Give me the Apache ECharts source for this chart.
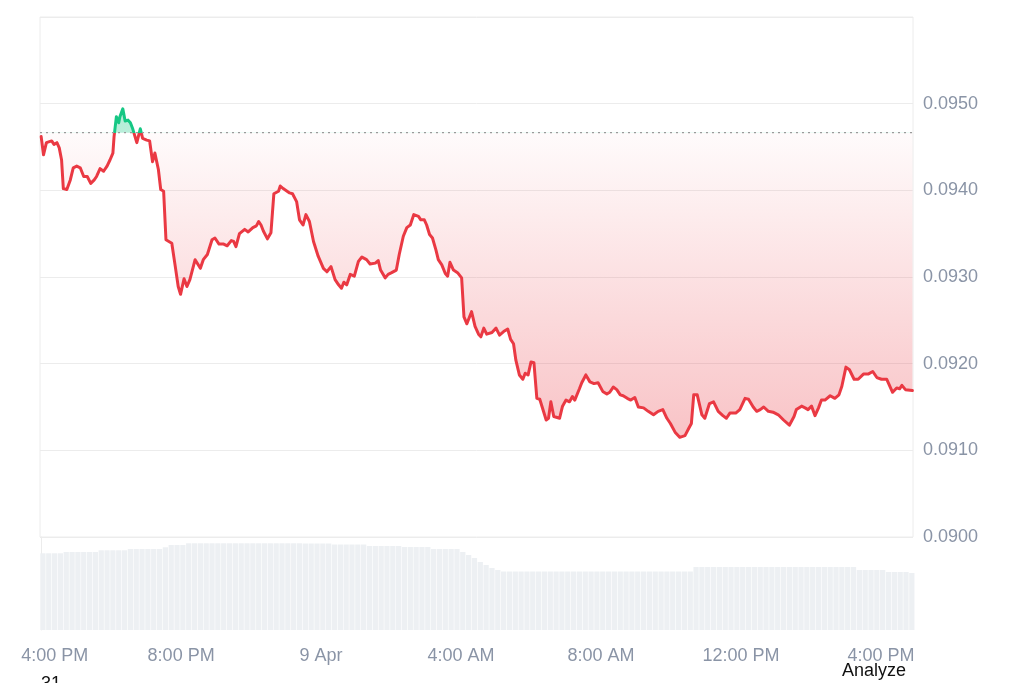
<!DOCTYPE html>
<html><head><meta charset="utf-8">
<script src="https://cdn.jsdelivr.net/npm/echarts@6/dist/echarts.min.js"></script>
<style>html,body{margin:0;padding:0;background:#fff}#c{width:1024px;height:683px}</style>
</head><body><div id="c"></div>
<script>
// x: minutes after 4:00 PM, 8 Apr
const tickMinutes = [0, 240, 480, 720, 960, 1200, 1440];
const tickLabels = ['4:00 PM', '8:00 PM', '9 Apr', '4:00 AM', '8:00 AM', '12:00 PM', '4:00 PM'];
const priceTicks = [0.0900, 0.0910, 0.0920, 0.0930, 0.0940, 0.0950, 0.0960];
const baselinePrice = 0.094665;

const times = [
  0,4,9,12,18,22,27,31,35,38,
  44,50,55,61,67,73,79,85,91,95,
  101,107,113,118,123,125,129,133,135,140,
  144,149,153,157,164,170,174,181,186,191,
  195,201,205,210,214,224,230,235,239,245,
  250,255,264,273,278,285,293,298,305,313,
  319,326,330,334,340,349,355,363,369,373,
  377,381,388,394,399,407,410,415,426,431,
  438,443,449,454,460,467,475,484,490,497,
  504,510,515,519,524,530,537,544,550,558,
  564,573,578,582,590,595,601,609,614,621,
  627,633,639,647,651,657,661,666,671,677,
  681,687,693,697,701,707,714,721,725,730,
  738,744,750,754,759,764,773,780,786,793,
  800,805,810,814,820,826,830,835,840,845,
  850,855,866,870,874,879,889,894,900,906,
  911,915,923,927,934,941,948,955,963,970,
  975,981,987,993,998,1005,1011,1018,1024,1033,
  1041,1050,1058,1066,1073,1079,1087,1095,1104,1111,
  1115,1119,1125,1133,1138,1146,1153,1161,1169,1175,
  1181,1191,1198,1207,1213,1221,1227,1233,1239,1247,
  1255,1264,1273,1283,1291,1295,1304,1310,1315,1321,
  1327,1333,1338,1344,1353,1361,1368,1373,1380,1386,
  1394,1401,1410,1418,1426,1433,1441,1450,1460,1467,
  1472,1476,1482,1494
];
const prices = [
  0.09462,0.09441,0.09455,0.09457,0.09457,0.09453,0.09455,0.09449,0.09435,0.09402,
  0.09401,0.09412,0.09426,0.09428,0.09426,0.09416,0.09416,0.09408,0.09412,0.09416,
  0.09425,0.09422,0.09428,0.09435,0.09443,0.09462,0.09485,0.09478,0.09485,0.09494,
  0.09480,0.09481,0.09478,0.09471,0.09455,0.09471,0.09460,0.09458,0.09457,0.09433,
  0.09443,0.09424,0.09401,0.09399,0.09343,0.09339,0.09312,0.09289,0.09280,0.09298,
  0.09289,0.09297,0.09320,0.09310,0.09320,0.09326,0.09343,0.09345,0.09338,0.09338,
  0.09336,0.09342,0.09341,0.09335,0.09350,0.09355,0.09352,0.09357,0.09359,0.09364,
  0.09360,0.09353,0.09344,0.09351,0.09396,0.09399,0.09405,0.09402,0.09397,0.09396,
  0.09387,0.09366,0.09360,0.09372,0.09364,0.09341,0.09324,0.09310,0.09306,0.09312,
  0.09297,0.09291,0.09287,0.09294,0.09291,0.09303,0.09301,0.09318,0.09323,0.09320,
  0.09315,0.09316,0.09319,0.09308,0.09299,0.09303,0.09305,0.09308,0.09326,0.09347,
  0.09357,0.09360,0.09372,0.09370,0.09366,0.09366,0.09360,0.09349,0.09345,0.09331,
  0.09320,0.09314,0.09304,0.09301,0.09317,0.09308,0.09305,0.09299,0.09254,0.09246,
  0.09260,0.09243,0.09234,0.09231,0.09241,0.09234,0.09236,0.09241,0.09233,0.09237,
  0.09240,0.09228,0.09223,0.09204,0.09187,0.09182,0.09189,0.09187,0.09202,0.09201,
  0.09160,0.09159,0.09135,0.09137,0.09156,0.09139,0.09137,0.09151,0.09158,0.09156,
  0.09162,0.09158,0.09171,0.09178,0.09187,0.09179,0.09177,0.09178,0.09168,0.09165,
  0.09167,0.09173,0.09170,0.09164,0.09163,0.09160,0.09158,0.09161,0.09150,0.09149,
  0.09145,0.09141,0.09145,0.09147,0.09137,0.09131,0.09121,0.09115,0.09117,0.09126,
  0.09131,0.09164,0.09164,0.09141,0.09137,0.09154,0.09156,0.09145,0.09140,0.09137,
  0.09143,0.09143,0.09147,0.09160,0.09159,0.09150,0.09145,0.09147,0.09150,0.09145,
  0.09144,0.09141,0.09135,0.09129,0.09139,0.09147,0.09151,0.09149,0.09147,0.09151,
  0.09140,0.09149,0.09158,0.09158,0.09163,0.09160,0.09164,0.09174,0.09196,0.09193,
  0.09182,0.09182,0.09188,0.09188,0.09191,0.09184,0.09182,0.09182,0.09167,0.09172,
  0.09171,0.09175,0.09170,0.09169
];

// volume bars, one per 10 minutes (arbitrary units)
const volTimes = Array.from({length: 150}, (_, k) => 3 + 10 * k);
const volumes = [
  76.7,76.7,76.7,76.7,78,78,78,78,78,78,
  79.7,79.7,79.7,79.7,79.7,81,81,81,81,81,
  81,82.7,85,85,85,86.7,86.7,86.7,86.7,86.7,
  86.7,86.7,86.7,86.7,86.7,86.7,86.7,86.7,86.7,86.7,
  86.7,86.7,86.7,86.7,86.7,86.5,86.5,86.5,86.5,86.5,
  85.5,85.5,85.5,85.5,85.5,85.5,84,84,84,84,
  84,84,83,83,83,83,83,81,81,81,
  81,81,78,75,72,68,65,62,60,58.5,
  58.5,58.5,58.5,58.5,58.5,58.5,58.5,58.5,58.5,58.5,
  58.5,58.5,58.5,58.5,58.5,58.5,58.5,58.5,58.5,58.5,
  58.5,58.5,58.5,58.5,58.5,58.5,58.5,58.5,58.5,58.5,
  58.5,58.5,63,63,63,63,63,63,63,63,
  63,63,63,63,63,63,63,63,63,63,
  63,63,63,63,63,63,63,63,63,63,
  60,60,60,60,60,58,58,58,58,57
];

const FONT = '"Liberation Sans", Arial, Helvetica, sans-serif';
const gridTop = 17, gridH = 520, yMin = 0.0900, yMax = 0.0960, xMin = -2, xMax = 1495;
const fb = (yMax - baselinePrice) / (yMax - yMin);

function splitGradient(stops) {
  return {type: 'linear', x: 0, y: gridTop, x2: 0, y2: gridTop + gridH, global: true, colorStops: stops};
}

const chart = echarts.init(document.getElementById('c'), null, {renderer: 'canvas'});
chart.setOption({
  animation: false,
  backgroundColor: '#ffffff',
  textStyle: {fontFamily: FONT},
  grid: [
    {left: 40, right: 111, top: gridTop, height: gridH, show: true, borderColor: '#ececec', borderWidth: 1},
    {left: 40, right: 111, top: gridTop + gridH, bottom: 53}
  ],
  xAxis: [
    {type: 'value', gridIndex: 0, min: xMin, max: xMax, show: false},
    {type: 'value', gridIndex: 1, min: xMin, max: xMax,
     axisLine: {show: false}, axisTick: {show: false}, splitLine: {show: false},
     axisLabel: {
       customValues: tickMinutes,
       margin: 17, color: '#8a94a6', fontSize: 18, fontFamily: FONT,
       formatter: (v) => {
         const i = tickMinutes.indexOf(v);
         return i === 0 ? '{first|' + tickLabels[0] + '}' : tickLabels[i];
       },
       rich: {first: {padding: [0, 0, 0, 27], color: '#8a94a6', fontSize: 18, fontFamily: FONT}}
     }
    }
  ],
  yAxis: [
    {type: 'value', gridIndex: 0, position: 'right', min: yMin, max: yMax, interval: 0.001,
     axisLine: {show: false}, axisTick: {show: false},
     splitLine: {lineStyle: {color: '#ececec', width: 1}},
     axisLabel: {margin: 10, color: '#8a94a6', fontSize: 18, fontFamily: FONT,
       formatter: (v) => Math.abs(v - yMax) < 1e-9 ? '' : v.toFixed(4)}
    },
    {type: 'value', gridIndex: 1, position: 'right', min: 0, max: 93,
     axisLine: {show: true, lineStyle: {color: '#ececec', width: 1}},
     axisTick: {show: false}, axisLabel: {show: false}, splitLine: {show: false}}
  ],
  graphic: [
    {type: 'text', left: 41, top: 675, style: {text: '31', font: '18px ' + FONT, fill: '#111111'}},
    {type: 'text', left: 842, top: 662, style: {text: 'Analyze', font: '18px ' + FONT, fill: '#111111'}}
  ],
  series: [
    {
      type: 'line', xAxisIndex: 0, yAxisIndex: 0,
      data: times.map((t, i) => [t, prices[i]]),
      showSymbol: false, symbol: 'none',
      lineStyle: {width: 3, cap: 'round', join: 'round',
        color: splitGradient([
          {offset: 0, color: '#16c784'}, {offset: fb, color: '#16c784'},
          {offset: fb, color: '#ea3943'}, {offset: 1, color: '#ea3943'}
        ])},
      areaStyle: {
        origin: baselinePrice, opacity: 1,
        color: splitGradient([
          {offset: 0, color: 'rgba(22,199,132,0.40)'},
          {offset: fb, color: 'rgba(22,199,132,0.30)'},
          {offset: fb, color: 'rgba(234,57,67,0.02)'},
          {offset: 0.81, color: 'rgba(234,57,67,0.30)'},
          {offset: 1, color: 'rgba(234,57,67,0.38)'}
        ])
      },
      z: 3
    },
    {
      // reference (opening) price, dotted
      type: 'line', xAxisIndex: 0, yAxisIndex: 0,
      data: [[xMin, baselinePrice], [xMax, baselinePrice]],
      showSymbol: false, symbol: 'none', silent: true,
      lineStyle: {type: [2, 4], color: '#9a9a9a', width: 1.3},
      z: 4
    },
    {
      type: 'bar', xAxisIndex: 1, yAxisIndex: 1,
      data: volTimes.map((t, i) => [t, volumes[i]]),
      itemStyle: {color: '#edf0f3'},
      barCategoryGap: '10%',
      clip: true, silent: true
    }
  ]
});
</script>
</body></html>
